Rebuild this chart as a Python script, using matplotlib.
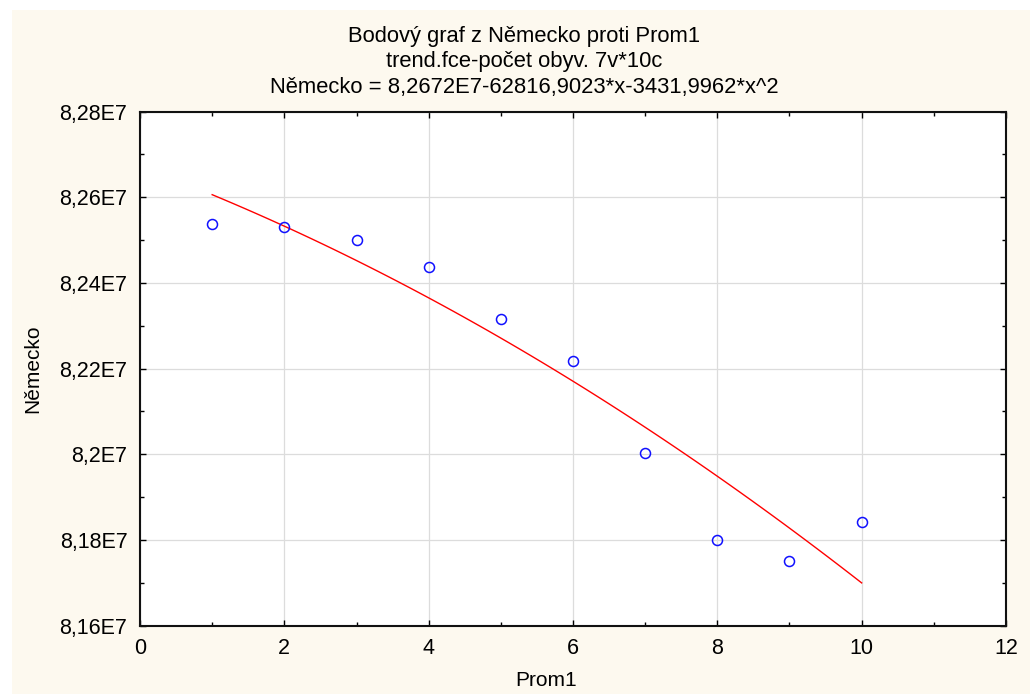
import numpy as np
import matplotlib
matplotlib.use("Agg")
import matplotlib.pyplot as plt
from matplotlib.patches import Rectangle
from matplotlib.ticker import MultipleLocator, FuncFormatter

prom1 = [1, 2, 3, 4, 5, 6, 7, 8, 9, 10]
nemecko = [82538000, 82531000, 82501000, 82438000, 82315000,
           82217000, 82002000, 81801000, 81752000, 81843000]

title_lines = ["Bodový graf z Německo proti Prom1",
               "trend.fce-počet obyv. 7v*10c",
               "Německo = 8,2672E7-62816,9023*x-3431,9962*x^2"]

plt.rcParams['font.family'] = ['Liberation Sans', 'DejaVu Sans']

fig = plt.figure(figsize=[10.3, 6.94], dpi=100)
fig.patch.set_facecolor("white")
fig.patches.append(Rectangle((12 / 1030, 0), 1, 1 - 10 / 694, transform=fig.transFigure,
                             facecolor="#fdf9ef", edgecolor="none", zorder=-10))

ax = fig.add_axes([140 / 1030, 1 - 625.7 / 694, 866 / 1030, 514.1 / 694])
ax.set_facecolor("white")

# trend quadratic fitted on the data
coef = np.polyfit(prom1, nemecko, 2)
xs = np.linspace(min(prom1), max(prom1), 60)
ax.plot(xs, np.polyval(coef, xs), color="#ff0000", lw=1.0, zorder=3)

ax.plot(prom1, nemecko, linestyle='', marker='o', markersize=7.2, markerfacecolor='none',
        markeredgecolor="#1010ff", markeredgewidth=1.1, zorder=4)

ax.set_xlim(0, 12)
ax.set_ylim(81600000, 82800000)
ax.xaxis.set_major_locator(MultipleLocator(2))
ax.xaxis.set_minor_locator(MultipleLocator(1))
ax.yaxis.set_major_locator(MultipleLocator(200000))
ax.yaxis.set_minor_locator(MultipleLocator(100000))


def fmt_y(v, pos):
    s = ("%.4f" % (v / 1e7)).rstrip("0").rstrip(".")
    return s.replace(".", ",") + "E7"


ax.yaxis.set_major_formatter(FuncFormatter(fmt_y))
ax.xaxis.set_major_formatter(FuncFormatter(lambda v, p: "%d" % v))

ax.grid(True, which='major', color="#dcdcdc", lw=0.9)
ax.set_axisbelow(True)
ax.tick_params(which='both', direction='in', top=True, right=True, colors="black",
               labelsize=15.5, width=1.0)
ax.tick_params(which='major', length=4, pad=9)
ax.tick_params(which='minor', length=3)
for s in ax.spines.values():
    s.set_linewidth(1.5)
    s.set_color("#111111")

fig.text(33 / 1030, 1 - 369 / 694, "Německo", rotation=90, ha='center', va='center', fontsize=15)
fig.text(546 / 1030, 1 - 680 / 694, "Prom1", ha='center', va='center', fontsize=15)

baselines = [42, 67, 93]
for t, b in zip(title_lines, baselines):
    fig.text(524 / 1030, 1 - b / 694, t, ha='center', va='baseline', fontsize=15.8)

plt.savefig("out.png", dpi=100)
